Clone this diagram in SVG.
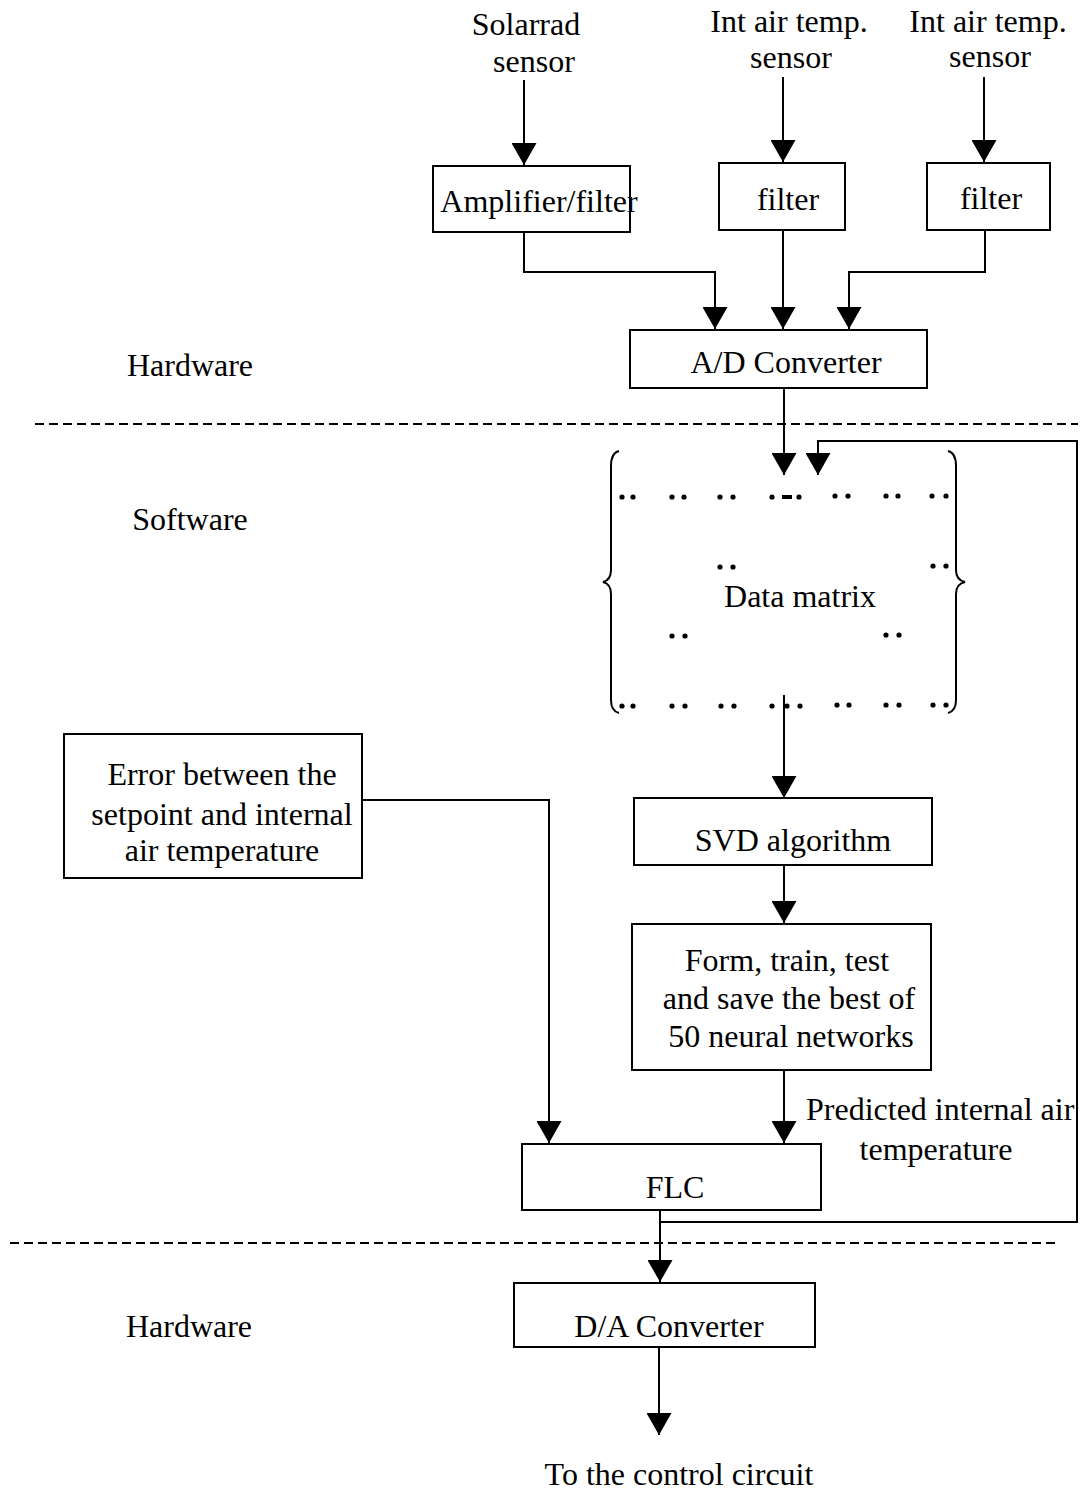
<svg xmlns="http://www.w3.org/2000/svg" width="1083" height="1492" viewBox="0 0 1083 1492">
<defs>
<marker id="ah" viewBox="0 0 22 25" refX="22" refY="12.5" markerWidth="22" markerHeight="25" markerUnits="userSpaceOnUse" orient="auto">
<path d="M0,0 L22,12.5 L0,25 Z" fill="#000"/>
</marker>
<style>
text{font-family:"Liberation Serif","Times New Roman",serif;font-size:32px;fill:#000;text-anchor:middle}
.box{fill:#fff;stroke:#000;stroke-width:2}
.a{fill:none;stroke:#000;stroke-width:2}
.dash{fill:none;stroke:#000;stroke-width:2;stroke-dasharray:9 5}
.br{fill:none;stroke:#000;stroke-width:2}
</style>
</defs>
<rect width="1083" height="1492" fill="#fff"/>

<g id="labels">
<text x="190" y="376">Hardware</text>
<text x="190" y="530">Software</text>
<text x="189" y="1337">Hardware</text>
<text x="526" y="35">Solarrad</text>
<text x="534" y="72">sensor</text>
<text x="789" y="32">Int air temp.</text>
<text x="791" y="68">sensor</text>
<text x="988" y="32">Int air temp.</text>
<text x="990" y="67">sensor</text>
<text x="936" y="1160">temperature</text>
<text x="679" y="1485">To the control circuit</text>
</g>

<g id="separators">
<line class="dash" x1="35" y1="424" x2="1078" y2="424"/>
<line class="dash" x1="10" y1="1243" x2="1055" y2="1243"/>
</g>

<g id="connectors">
<line class="a" x1="524" y1="80" x2="524" y2="165" marker-end="url(#ah)"/>
<line class="a" x1="783" y1="77" x2="783" y2="162" marker-end="url(#ah)"/>
<line class="a" x1="984" y1="77" x2="984" y2="162" marker-end="url(#ah)"/>
<polyline class="a" points="524,232 524,272 715,272 715,329" marker-end="url(#ah)"/>
<line class="a" x1="783" y1="230" x2="783" y2="329" marker-end="url(#ah)"/>
<polyline class="a" points="985,230 985,272 849,272 849,329" marker-end="url(#ah)"/>
<line class="a" x1="784" y1="388" x2="784" y2="475" marker-end="url(#ah)"/>
<line class="a" x1="784" y1="695" x2="784" y2="798" marker-end="url(#ah)"/>
<line class="a" x1="784" y1="865" x2="784" y2="923" marker-end="url(#ah)"/>
<line class="a" x1="784" y1="1070" x2="784" y2="1143" marker-end="url(#ah)"/>
<polyline class="a" points="362,800 549,800 549,1143" marker-end="url(#ah)"/>
<line class="a" x1="660" y1="1210" x2="660" y2="1282" marker-end="url(#ah)"/>
<polyline class="a" points="660,1222 1077,1222 1077,441 818,441 818,475" marker-end="url(#ah)"/>
<line class="a" x1="659" y1="1347" x2="659" y2="1435" marker-end="url(#ah)"/>
</g>

<g id="amp">
<rect class="box" x="433" y="166" width="197" height="66"/>
<text x="539" y="212">Amplifier/filter</text>
</g>
<g id="filter1">
<rect class="box" x="719" y="163" width="126" height="67"/>
<text x="788" y="210">filter</text>
</g>
<g id="filter2">
<rect class="box" x="927" y="163" width="123" height="67"/>
<text x="991" y="209">filter</text>
</g>
<g id="adc">
<rect class="box" x="630" y="330" width="297" height="58"/>
<text x="786" y="373">A/D Converter</text>
</g>

<g id="datamatrix">
<path class="br" d="M619,451 Q611,453 611,466 L611,570 Q611,580 603,582 Q611,584 611,594 L611,700 Q611,711 619,713"/>
<path class="br" d="M948,451 Q956,453 956,466 L956,570 Q956,580 965,582 Q956,584 956,594 L956,700 Q956,711 948,713"/>
<g fill="#000">
<circle cx="622" cy="497" r="2.6"/><circle cx="633" cy="497" r="2.6"/>
<circle cx="672" cy="497" r="2.6"/><circle cx="684" cy="497" r="2.6"/>
<circle cx="720" cy="497" r="2.6"/><circle cx="733" cy="497" r="2.6"/>
<circle cx="772" cy="497" r="2.6"/><rect x="782" y="495" width="10" height="4"/><circle cx="799" cy="497" r="2.6"/>
<circle cx="835" cy="496" r="2.6"/><circle cx="848" cy="496" r="2.6"/>
<circle cx="886" cy="496" r="2.6"/><circle cx="898" cy="496" r="2.6"/>
<circle cx="932" cy="496" r="2.6"/><circle cx="946" cy="496" r="2.6"/>
<circle cx="720" cy="567" r="2.6"/><circle cx="733" cy="567" r="2.6"/>
<circle cx="933" cy="566" r="2.6"/><circle cx="946" cy="566" r="2.6"/>
<circle cx="672" cy="636" r="2.6"/><circle cx="685" cy="636" r="2.6"/>
<circle cx="886" cy="635" r="2.6"/><circle cx="899" cy="635" r="2.6"/>
<circle cx="622" cy="706" r="2.6"/><circle cx="633" cy="706" r="2.6"/>
<circle cx="672" cy="706" r="2.6"/><circle cx="685" cy="706" r="2.6"/>
<circle cx="721" cy="706" r="2.6"/><circle cx="734" cy="706" r="2.6"/>
<circle cx="772" cy="706" r="2.6"/><circle cx="787" cy="706" r="2.6"/><circle cx="800" cy="706" r="2.6"/>
<circle cx="837" cy="705" r="2.6"/><circle cx="849" cy="705" r="2.6"/>
<circle cx="886" cy="705" r="2.6"/><circle cx="899" cy="705" r="2.6"/>
<circle cx="933" cy="705" r="2.6"/><circle cx="946" cy="705" r="2.6"/>
</g>
<text x="800" y="607">Data matrix</text>
</g>

<g id="error">
<rect class="box" x="64" y="734" width="298" height="144"/>
<text x="222" y="785">Error between the</text>
<text x="222" y="825">setpoint and internal</text>
<text x="222" y="861">air temperature</text>
</g>
<g id="svd">
<rect class="box" x="634" y="798" width="298" height="67"/>
<text x="793" y="851">SVD algorithm</text>
</g>
<g id="nn">
<rect class="box" x="632" y="924" width="299" height="146"/>
<text x="787" y="971">Form, train, test</text>
<text x="789" y="1009">and save the best of</text>
<text x="791" y="1047">50 neural networks</text>
</g>
<g id="predlabel">
<text x="806" y="1120" style="text-anchor:start">Predicted internal air</text>
</g>
<g id="flc">
<rect class="box" x="522" y="1144" width="299" height="66"/>
<text x="675" y="1198">FLC</text>
</g>
<g id="dac">
<rect class="box" x="514" y="1283" width="301" height="64"/>
<text x="669" y="1337">D/A Converter</text>
</g>
</svg>
